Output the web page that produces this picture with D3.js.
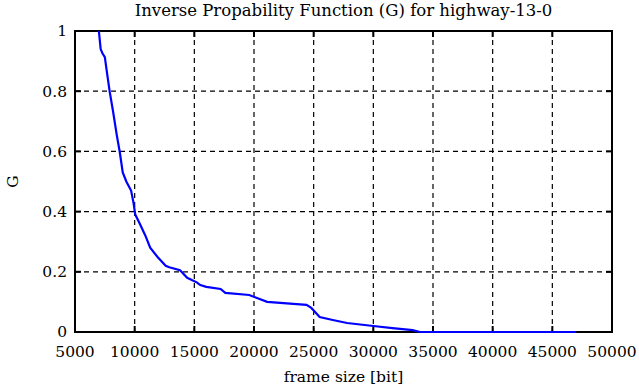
<!DOCTYPE html>
<meta charset="utf-8">
<title>Inverse Propability Function</title>
<style>
body { margin: 0; background: #fff; }
svg text { font-family: "DejaVu Serif", serif; font-size: 15.5px; fill: #000; }
svg text.title { font-size: 16.5px; }
.grid line { stroke: #000; stroke-width: 1.2; stroke-dasharray: 5,4; }
.frame { fill: none; stroke: #000; stroke-width: 2; }
.tick-mark { stroke: #000; stroke-width: 2; }
</style>
<body>
<script src="https://d3js.org/d3.v7.min.js"></script>
<script>

// frame size [bit] and G
var frameSize = [7000, 7150, 7300, 7500, 7650, 7900, 8200, 8500, 8750, 9000, 9300,
  9700, 9900, 10050, 10400, 10900, 11300, 11900, 12600, 12900, 13800, 14400,
  15200, 15500, 16000, 17200, 17600, 19600, 21100, 24400, 24800, 25100, 25500,
  26600, 27800, 30000, 31600, 33300, 33900, 47000];
var gValue = [1.0, 0.94, 0.926, 0.913, 0.87, 0.80, 0.73, 0.654, 0.598, 0.53, 0.50,
  0.47, 0.43, 0.39, 0.362, 0.32, 0.28, 0.25, 0.22, 0.215, 0.205, 0.18,
  0.165, 0.156, 0.15, 0.143, 0.13, 0.123, 0.10, 0.09, 0.08, 0.067, 0.05,
  0.04, 0.03, 0.02, 0.013, 0.006, 0, 0];

var xTicks = [5000, 10000, 15000, 20000, 25000, 30000, 35000, 40000, 45000, 50000];
var yTicks = [0, 0.2, 0.4, 0.6, 0.8, 1];

var margin = {top: 31, right: 27, bottom: 55, left: 75},
    width = 639 - margin.left - margin.right,
    height = 387 - margin.top - margin.bottom;

var x = d3.scaleLinear().domain([5000, 50000]).range([0, width]);
var y = d3.scaleLinear().domain([0, 1]).range([height, 0]);

var svg = d3.select("body").append("svg")
    .attr("width", 639)
    .attr("height", 387)
  .append("g")
    .attr("transform", "translate(" + margin.left + "," + margin.top + ")");

// dashed grid
var grid = svg.append("g").attr("class", "grid");
grid.selectAll(".vx")
    .data(xTicks.slice(1, -1))
  .enter().append("line")
    .attr("x1", function(d) { return x(d); })
    .attr("x2", function(d) { return x(d); })
    .attr("y1", 0)
    .attr("y2", height);
grid.selectAll(".hy")
    .data(yTicks.slice(1, -1))
  .enter().append("line")
    .attr("x1", 0)
    .attr("x2", width)
    .attr("y1", function(d) { return y(d); })
    .attr("y2", function(d) { return y(d); });

// inward tick marks on all four sides
var tl = 6;
svg.selectAll(".tb")
    .data(xTicks)
  .enter().append("line")
    .attr("class", "tick-mark")
    .attr("x1", function(d) { return x(d); })
    .attr("x2", function(d) { return x(d); })
    .attr("y1", height)
    .attr("y2", height - tl);
svg.selectAll(".tt")
    .data(xTicks)
  .enter().append("line")
    .attr("class", "tick-mark")
    .attr("x1", function(d) { return x(d); })
    .attr("x2", function(d) { return x(d); })
    .attr("y1", 0)
    .attr("y2", tl);
svg.selectAll(".tl")
    .data(yTicks)
  .enter().append("line")
    .attr("class", "tick-mark")
    .attr("x1", 0)
    .attr("x2", tl)
    .attr("y1", function(d) { return y(d); })
    .attr("y2", function(d) { return y(d); });
svg.selectAll(".tr")
    .data(yTicks)
  .enter().append("line")
    .attr("class", "tick-mark")
    .attr("x1", width)
    .attr("x2", width - tl)
    .attr("y1", function(d) { return y(d); })
    .attr("y2", function(d) { return y(d); });

// tick labels
svg.selectAll(".xl")
    .data(xTicks)
  .enter().append("text")
    .attr("x", function(d) { return x(d); })
    .attr("y", height + 25)
    .style("text-anchor", "middle")
    .text(function(d) { return d; });
svg.selectAll(".yl")
    .data(yTicks)
  .enter().append("text")
    .attr("x", -8)
    .attr("y", function(d) { return y(d); })
    .attr("dy", "0.35em")
    .style("text-anchor", "end")
    .text(function(d) { return d; });

svg.append("rect")
    .attr("class", "frame")
    .attr("width", width)
    .attr("height", height);

// curve, drawn over the frame like the reference
var pts = frameSize.map(function(f, i) { return [f, gValue[i]]; });
svg.append("path")
    .datum(pts)
    .attr("fill", "none")
    .attr("stroke", "#0000ff")
    .attr("stroke-width", 2.2)
    .attr("d", d3.line()
      .x(function(d) { return x(d[0]); })
      .y(function(d) { return y(d[1]); }));

// labels
svg.append("text")
    .attr("class", "title")
    .attr("x", width / 2)
    .attr("y", -15)
    .style("text-anchor", "middle")
    .text("Inverse Propability Function (G) for highway-13-0");

svg.append("text")
    .attr("x", width / 2)
    .attr("y", height + 50)
    .style("text-anchor", "middle")
    .text("frame size [bit]");

svg.append("text")
    .attr("transform", "translate(" + (-57) + "," + (height / 2) + ") rotate(-90)")
    .style("text-anchor", "middle")
    .text("G");

</script>
</body>
